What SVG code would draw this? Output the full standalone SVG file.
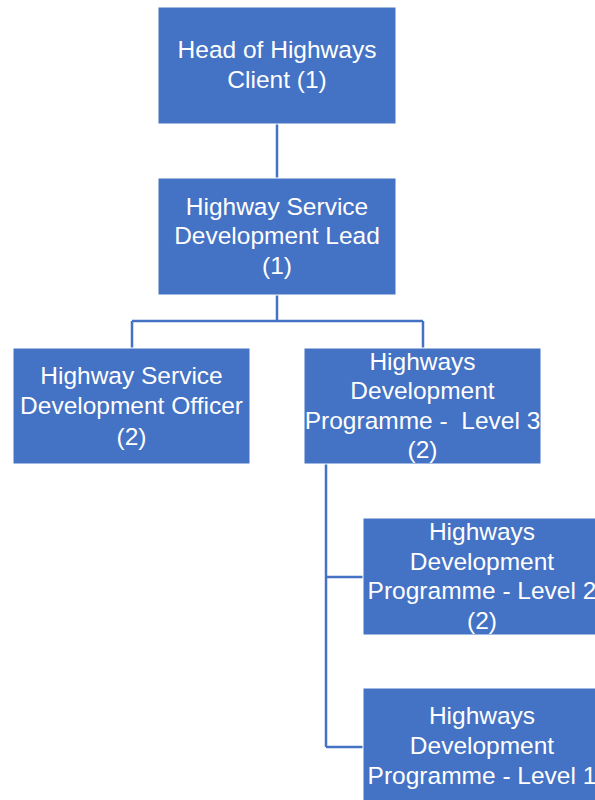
<svg xmlns="http://www.w3.org/2000/svg" width="595" height="800" viewBox="0 0 595 800">
<style>
.box{fill:#4472C4;stroke:#ffffff;stroke-width:1}
.t{font-family:"Liberation Sans",Arial,sans-serif;font-size:24.5px;fill:#ffffff;text-anchor:middle;white-space:pre}
.c{fill:none;stroke:#4472C4;stroke-width:2.5}
</style>
<rect width="595" height="800" fill="#ffffff"/>
<g id="connectors">
<path class="c" d="M277,124 V178"/>
<path class="c" d="M277,295 V321 M132,321 H423 M132,321 V348 M423,321 V348"/>
<path class="c" d="M326,464 V747 M326,577 H363 M326,747 H363"/>
</g>
<g id="head">
<rect class="box" x="158" y="7" width="238" height="117"/>
<text class="t" x="277" y="58">Head of Highways</text>
<text class="t" x="277" y="88">Client (1)</text>
</g>
<g id="lead">
<rect class="box" x="158" y="178" width="238" height="117"/>
<text class="t" x="277" y="215">Highway Service</text>
<text class="t" x="277" y="244">Development Lead</text>
<text class="t" x="277" y="274">(1)</text>
</g>
<g id="officer">
<rect class="box" x="13" y="348" width="237" height="116"/>
<text class="t" x="131.5" y="384">Highway Service</text>
<text class="t" x="131.5" y="414">Development Officer</text>
<text class="t" x="131.5" y="445">(2)</text>
</g>
<g id="level3">
<rect class="box" x="304" y="348" width="237" height="116"/>
<text class="t" x="422.5" y="370">Highways</text>
<text class="t" x="422.5" y="399">Development</text>
<text class="t" x="422.5" y="429">Programme -  Level 3</text>
<text class="t" x="422.5" y="458">(2)</text>
</g>
<g id="level2">
<rect class="box" x="363" y="518" width="238" height="117"/>
<text class="t" x="482" y="540">Highways</text>
<text class="t" x="482" y="570">Development</text>
<text class="t" x="482" y="599">Programme - Level 2</text>
<text class="t" x="482" y="629">(2)</text>
</g>
<g id="level1">
<rect class="box" x="363" y="688" width="238" height="117"/>
<text class="t" x="482" y="724">Highways</text>
<text class="t" x="482" y="754">Development</text>
<text class="t" x="482" y="784">Programme - Level 1</text>
</g>
</svg>
